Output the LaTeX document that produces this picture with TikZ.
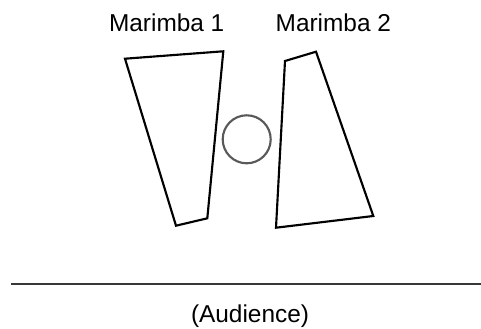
\documentclass[tikz,border=0pt]{standalone}
\usepackage{fontspec}
\setmainfont{Liberation Sans}
\begin{document}
\begin{tikzpicture}[x=0.75pt,y=-0.75pt,
  poly/.style={draw=black,line width=1.6pt,line join=miter},
  lbl/.style={font=\fontsize{18.3}{20}\selectfont,inner sep=0pt,anchor=base}]
\useasboundingbox (0,0) rectangle (481,328);
\draw[poly] (125,58.7) -- (223.3,51.3) -- (207.3,218.3) -- (176,225.7) -- cycle;
\draw[poly] (285,61) -- (316,51.7) -- (373.3,216) -- (276,227.7) -- cycle;
\node[draw=black!65,line width=1.6pt,circle,minimum size=48*0.75pt,inner sep=0pt] (c) at (246.7,139.3) {};
\coordinate (l1) at (11,283.7);
\coordinate (l2) at (481,283.7);
\draw[black!78,line width=1.6pt] (l1) -- (l2);
\node[lbl] (m1) at (166.7,31.7) {Marimba 1};
\node[lbl] (m2) at (333.3,31.7) {Marimba 2};
\node[lbl] (aud) at (250,322) {(Audience)};
\end{tikzpicture}
\end{document}
